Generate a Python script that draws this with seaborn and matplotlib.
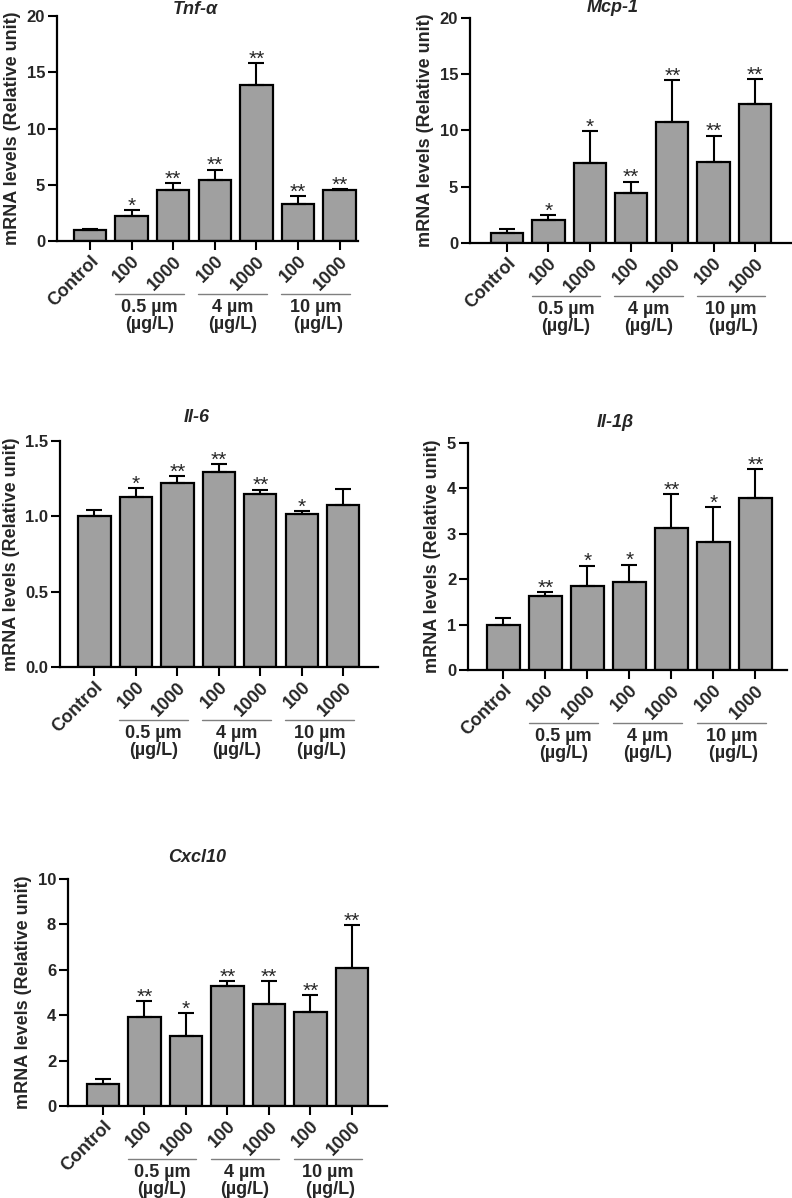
import numpy as np
import pandas as pd
import matplotlib
matplotlib.use("Agg")
import matplotlib.pyplot as plt
import matplotlib.transforms as mtransforms
import seaborn as sns

# ---------------------------------------------------------------
# Datos
# ---------------------------------------------------------------
groups = ["Control", "100", "1000", "100 ", "1000 ", "100  ", "1000  "]
tick_labels = ["Control", "100", "1000", "100", "1000", "100", "1000"]
size_labels = ["0.5 µm\n(µg/L)", "4 µm\n(µg/L)", "10 µm\n (µg/L)"]

tnf_mean = [0.97, 2.25, 4.52, 5.40, 13.9, 3.28, 4.52]
tnf_err = [0.12, 0.50, 0.65, 0.95, 1.90, 0.71, 0.08]
tnf_sig = ["", "*", "**", "**", "**", "**", "**"]

mcp_mean = [0.92, 2.04, 7.13, 4.41, 10.77, 7.19, 12.37]
mcp_err = [0.32, 0.45, 2.81, 1.03, 3.70, 2.34, 2.19]
mcp_sig = ["", "*", "*", "**", "**", "**", "**"]

il6_mean = [1.004, 1.128, 1.221, 1.292, 1.148, 1.017, 1.075]
il6_err = [0.037, 0.062, 0.046, 0.053, 0.029, 0.018, 0.104]
il6_sig = ["", "*", "**", "**", "**", "*", ""]

il1b_mean = [0.99, 1.625, 1.85, 1.94, 3.12, 2.83, 3.79]
il1b_err = [0.16, 0.085, 0.45, 0.38, 0.76, 0.76, 0.64]
il1b_sig = ["", "**", "*", "*", "**", "*", "**"]

cxcl_mean = [0.99, 3.90, 3.09, 5.27, 4.48, 4.12, 6.07]
cxcl_err = [0.20, 0.72, 0.99, 0.22, 1.01, 0.75, 1.90]
cxcl_sig = ["", "**", "*", "**", "**", "**", "**"]

panels = [
    # titulo, medias, errores, signif, ylim, yticks, rect, xlim, titulo_xy
    ("Tnf-α", tnf_mean, tnf_err, tnf_sig, 20, [0, 5, 10, 15, 20],
     [0.072, 0.7988, 0.380, 0.1878], (-0.79, 6.44), (195, 9)),
    ("Mcp-1", mcp_mean, mcp_err, mcp_sig, 20, [0, 5, 10, 15, 20],
     [0.5934, 0.7972, 0.4066, 0.1878], (-0.90, 6.90), (613, 8)),
    ("Il-6", il6_mean, il6_err, il6_sig, 1.5, [0.0, 0.5, 1.0, 1.5],
     [0.0758, 0.4432, 0.4015, 0.1886], (-0.83, 6.84), (197, 418)),
    ("Il-1β", il1b_mean, il1b_err, il1b_sig, 5, [0, 1, 2, 3, 4, 5],
     [0.5909, 0.4407, 0.4028, 0.1895], (-0.84, 6.75), (615, 423)),
    ("Cxcl10", cxcl_mean, cxcl_err, cxcl_sig, 10, [0, 2, 4, 6, 8, 10],
     [0.0859, 0.0768, 0.4024, 0.1895], (-0.84, 6.84), (197, 857)),
]

sns.set_theme(style="ticks")
plt.rcParams["font.family"] = ["Liberation Sans", "DejaVu Sans"]
plt.rcParams["font.weight"] = "bold"

W, H = 792, 1198
fig = plt.figure(figsize=(W / 100, H / 100), dpi=100)

for title, mean, err, sig, ymax, yticks, rect, xlim, txy in panels:
    ax = fig.add_axes(rect)
    df = pd.DataFrame({"grupo": groups, "valor": mean})
    sns.barplot(data=df, x="grupo", y="valor", ax=ax, color="#a0a0a0",
                saturation=1, width=0.78, edgecolor="black", linewidth=1.6,
                errorbar=None, order=groups)
    # barra de error solo hacia arriba
    xs = np.arange(len(groups))
    ax.errorbar(xs, mean, yerr=[np.zeros(len(err)), err], fmt="none",
                ecolor="black", elinewidth=1.5, capsize=6, capthick=1.5, zorder=3)
    for x, m, e, s in zip(xs, mean, err, sig):
        if s:
            ax.annotate(s, (x, m + e), xytext=(0, -4), textcoords="offset points",
                        ha="center", va="bottom", fontsize=15, fontweight="normal")

    ax.set_xlim(*xlim)
    ax.set_ylim(0, ymax)
    ax.set_yticks(yticks)
    if ymax == 1.5:
        ax.set_yticklabels([f"{t:.1f}" for t in yticks])
    ax.set_xticks(xs)
    ax.set_xticklabels(tick_labels, rotation=45, ha="right",
                       rotation_mode="anchor", fontsize=13)
    ax.tick_params(axis="both", width=1.5, length=6.5, pad=2, color="black")
    ax.tick_params(axis="y", labelsize=12)
    ax.set_xlabel("")
    ax.set_ylabel("mRNA levels (Relative unit)", fontsize=13, fontweight="bold",
                  labelpad=4)
    for sp in ["left", "bottom"]:
        ax.spines[sp].set_linewidth(1.6)
        ax.spines[sp].set_color("black")
    sns.despine(ax=ax)

    # etiquetas de grupo bajo el eje x
    tr_line = mtransforms.offset_copy(ax.get_xaxis_transform(), fig=fig,
                                      x=0, y=-53, units="dots")
    for k, lab in enumerate(size_labels):
        i = 1 + 2 * k
        ax.plot([i - 0.4, i + 1.25], [0, 0], color="#7f7f7f", lw=1.0,
                transform=tr_line, clip_on=False)
        ax.annotate(lab, ((i - 0.4 + i + 1.25) / 2, 0),
                    xycoords=ax.get_xaxis_transform(),
                    xytext=(0, -58 * 0.72), textcoords="offset points",
                    ha="center", va="top", fontsize=13, fontweight="bold",
                    linespacing=1.0)

    fig.text(txy[0] / W, 1 - txy[1] / H, title, ha="center", va="center",
             fontsize=13, fontweight="bold", fontstyle="italic")

fig.savefig("out.png", dpi=100)
